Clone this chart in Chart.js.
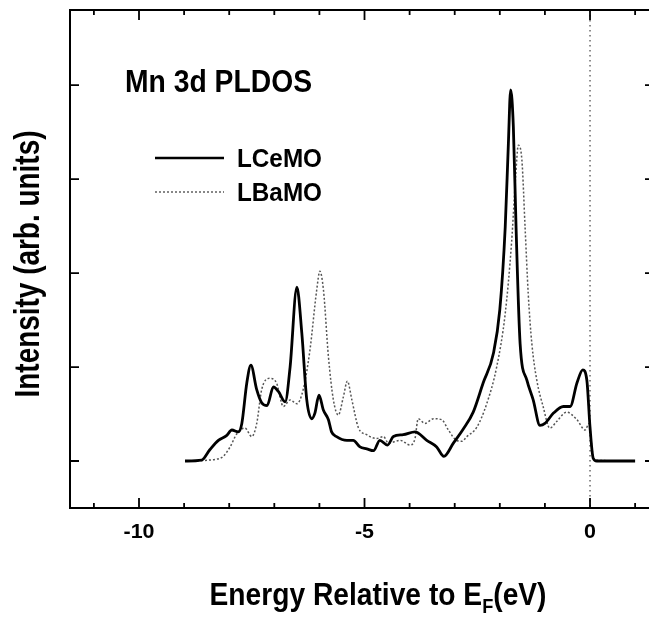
<!DOCTYPE html>
<html>
<head>
<meta charset="utf-8">
<script src="https://cdn.jsdelivr.net/npm/chart.js@4.4.0/dist/chart.umd.min.js"></script>
<style>
  html, body { margin: 0; padding: 0; background: #fff; overflow: hidden; }
  #wrap { width: 652px; height: 620px; }
</style>
</head>
<body>
<div id="wrap"><canvas id="pldos" width="652" height="620"></canvas></div>
<script>
// Mn 3d PLDOS, energies in eV relative to E_F
const energyCe = [-8.98, -8.61, -8.43, -8.24, -8.06, -7.94, -7.80, -7.72, -7.61, -7.52, -7.39, -7.28, -7.16, -7.02, -6.91, -6.76, -6.65, -6.50, -6.39, -6.28, -6.17, -6.10, -6.01, -5.91, -5.80, -5.73, -5.62, -5.39, -5.25, -5.10, -4.95, -4.80, -4.66, -4.49, -4.36, -4.14, -3.88, -3.62, -3.40, -3.24, -3.03, -2.81, -2.59, -2.37, -2.14, -2.00, -1.88, -1.81, -1.76, -1.70, -1.64, -1.55, -1.40, -1.26, -1.11, -1.00, -0.81, -0.59, -0.44, -0.29, -0.16, -0.07, 0, 0.07, 0.15, 1.0];
const intensityCe = [0, 0.01, 0.12, 0.22, 0.27, 0.33, 0.31, 0.40, 0.83, 1.02, 0.76, 0.62, 0.59, 0.79, 0.74, 0.63, 1.00, 1.85, 1.36, 0.65, 0.45, 0.51, 0.70, 0.54, 0.44, 0.31, 0.26, 0.22, 0.22, 0.15, 0.13, 0.11, 0.22, 0.17, 0.26, 0.28, 0.31, 0.22, 0.15, 0.05, 0.19, 0.34, 0.52, 0.83, 1.15, 1.61, 2.49, 3.38, 3.95, 3.56, 2.49, 1.25, 0.86, 0.65, 0.38, 0.40, 0.51, 0.58, 0.58, 0.83, 0.97, 0.86, 0.36, 0.03, 0, 0];

const energyBa = [-8.98, -8.28, -8.13, -7.98, -7.83, -7.65, -7.50, -7.39, -7.28, -7.10, -6.95, -6.80, -6.65, -6.50, -6.36, -6.21, -6.06, -5.99, -5.91, -5.80, -5.69, -5.58, -5.47, -5.38, -5.28, -5.14, -4.95, -4.73, -4.58, -4.47, -4.21, -3.99, -3.88, -3.81, -3.66, -3.47, -3.29, -3.14, -2.96, -2.84, -2.73, -2.51, -2.29, -2.07, -1.88, -1.74, -1.65, -1.59, -1.51, -1.44, -1.37, -1.29, -1.18, -1.04, -0.89, -0.74, -0.52, -0.29, -0.11, -0.02, 0.04, 0.09, 1.0];
const intensityBa = [0, 0.02, 0.05, 0.15, 0.29, 0.35, 0.26, 0.40, 0.76, 0.88, 0.83, 0.58, 0.65, 0.61, 0.76, 1.18, 1.82, 2.02, 1.82, 1.11, 0.65, 0.49, 0.68, 0.85, 0.65, 0.36, 0.28, 0.24, 0.26, 0.19, 0.22, 0.17, 0.24, 0.45, 0.40, 0.45, 0.44, 0.33, 0.22, 0.21, 0.26, 0.36, 0.61, 1.00, 1.57, 2.32, 3.02, 3.36, 3.20, 2.49, 1.78, 1.25, 0.86, 0.58, 0.35, 0.42, 0.52, 0.44, 0.33, 0.40, 0.15, 0.01, 0];

const seriesNames = ['LCeMO', 'LBaMO'];
const xTickLabels = [-10, -5, 0];
const xMinorTicks = [-11, -10, -9, -8, -7, -6, -5, -4, -3, -2, -1, 0, 1];
const yTickValues = [0, 1, 2, 3, 4];

const FONT = '"Liberation Sans Narrow", "Liberation Sans", Arial, sans-serif';

const toPoints = (xs, ys) => xs.map((x, i) => ({ x: x, y: ys[i] }));

// draws bold text squeezed/stretched to a given width
function fitText(ctx, text, x, y, size, width, align) {
    ctx.save();
    ctx.font = `bold ${size}px ${FONT}`;
    const s = width / ctx.measureText(text).width;
    ctx.translate(x, y);
    ctx.scale(s, 1);
    ctx.textAlign = align || 'left';
    ctx.textBaseline = 'alphabetic';
    ctx.fillStyle = '#000';
    ctx.fillText(text, 0, 0);
    ctx.restore();
}

const framePlugin = {
    id: 'frame',
    beforeDatasetsDraw(chart) {
        const { ctx, chartArea: a, scales: { x } } = chart;
        // Fermi level marker
        const px = x.getPixelForValue(0);
        ctx.save();
        ctx.strokeStyle = '#444';
        ctx.lineWidth = 1.2;
        ctx.setLineDash([1.5, 3.5]);
        ctx.beginPath();
        ctx.moveTo(px, a.top);
        ctx.lineTo(px, a.bottom);
        ctx.stroke();
        ctx.restore();
    },
    afterDraw(chart) {
        const { ctx, chartArea: a, scales: { x, y } } = chart;
        ctx.save();
        ctx.strokeStyle = '#000';
        ctx.lineWidth = 2;
        ctx.strokeRect(a.left, a.top, a.right - a.left, a.bottom - a.top);

        ctx.lineWidth = 1.8;
        ctx.beginPath();
        xMinorTicks.forEach(v => {
            const px = x.getPixelForValue(v);
            const len = xTickLabels.includes(v) ? 10 : 5;
            ctx.moveTo(px, a.bottom); ctx.lineTo(px, a.bottom - len);
            ctx.moveTo(px, a.top); ctx.lineTo(px, a.top + len);
        });
        yTickValues.forEach(v => {
            const py = y.getPixelForValue(v);
            ctx.moveTo(a.left, py); ctx.lineTo(a.left + 9, py);
            ctx.moveTo(a.right, py); ctx.lineTo(a.right - 5, py);
        });
        ctx.stroke();
        ctx.restore();

        // tick labels
        ctx.save();
        ctx.font = `bold 21px ${FONT}`;
        const sx = 31 / ctx.measureText('-10').width;
        ctx.restore();
        xTickLabels.forEach(v => {
            ctx.save();
            ctx.font = `bold 21px ${FONT}`;
            const label = String(v);
            const w = ctx.measureText(label).width * sx;
            ctx.restore();
            fitText(ctx, label, x.getPixelForValue(v), 538, 21, w, 'center');
        });

        // panel label and legend
        fitText(ctx, 'Mn 3d PLDOS', 125, 92, 32, 187, 'left');
        ctx.save();
        ctx.strokeStyle = '#000';
        ctx.lineWidth = 2.6;
        ctx.beginPath(); ctx.moveTo(155, 158); ctx.lineTo(224, 158); ctx.stroke();
        ctx.strokeStyle = '#555';
        ctx.lineWidth = 1.4;
        ctx.setLineDash([2, 2]);
        ctx.beginPath(); ctx.moveTo(155, 192); ctx.lineTo(224, 192); ctx.stroke();
        ctx.restore();
        fitText(ctx, seriesNames[0], 237, 167, 25, 85, 'left');
        fitText(ctx, seriesNames[1], 237, 201, 25, 85, 'left');

        // y axis title
        ctx.save();
        ctx.translate(39, 264);
        ctx.rotate(-Math.PI / 2);
        fitText(ctx, 'Intensity (arb. units)', 0, 0, 35, 267, 'center');
        ctx.restore();

        // x axis title with subscript F
        ctx.save();
        ctx.font = `bold 31px ${FONT}`;
        const p1 = 'Energy Relative to E', p3 = '(eV)';
        const w1 = ctx.measureText(p1).width, w3 = ctx.measureText(p3).width;
        ctx.font = `bold 20px ${FONT}`;
        const w2 = ctx.measureText('F').width;
        const k = 337 / (w1 + w2 + w3);
        const left = 378 - 337 / 2, base = 605;
        ctx.restore();
        fitText(ctx, p1, left, base, 31, w1 * k, 'left');
        fitText(ctx, 'F', left + w1 * k, base + 8, 20, w2 * k, 'left');
        fitText(ctx, p3, left + (w1 + w2) * k, base, 31, w3 * k, 'left');
    }
};

new Chart(document.getElementById('pldos'), {
    type: 'line',
    data: {
        datasets: [{
            label: seriesNames[0],
            data: toPoints(energyCe, intensityCe),
            borderColor: '#000',
            borderWidth: 2.8,
            pointRadius: 0,
            cubicInterpolationMode: 'monotone'
        }, {
            label: seriesNames[1],
            data: toPoints(energyBa, intensityBa),
            borderColor: '#555',
            borderWidth: 1.5,
            borderDash: [2, 2],
            pointRadius: 0,
            cubicInterpolationMode: 'monotone'
        }]
    },
    options: {
        responsive: false,
        animation: false,
        layout: { padding: { left: 70, right: 2, top: 10, bottom: 112 } },
        plugins: { legend: { display: false }, tooltip: { enabled: false } },
        scales: {
            x: { type: 'linear', min: -11.53, max: 1.33, display: false },
            y: { min: -0.5, max: 4.8, display: false }
        }
    },
    plugins: [framePlugin]
});
</script>
</body>
</html>
